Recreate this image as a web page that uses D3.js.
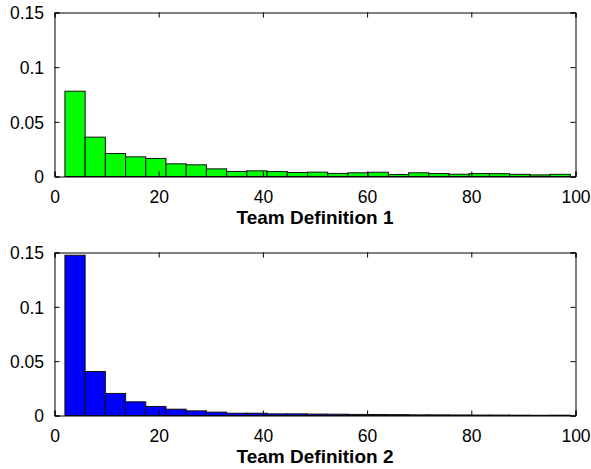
<!DOCTYPE html>
<html>
<head>
<meta charset="utf-8">
<script src="https://cdn.jsdelivr.net/npm/d3@7"></script>
<style>
  html, body { margin: 0; padding: 0; background: #fff; }
  svg { display: block; }
  text { font-family: "Liberation Sans", Arial, Helvetica, sans-serif; }
</style>
</head>
<body>
<svg id="chart" width="591" height="469"></svg>
<script>
// ---- data ----
const binEdges = [2, 5.88, 9.76, 13.64, 17.52, 21.4, 25.28, 29.16, 33.04, 36.92, 40.8, 44.68, 48.56,
  52.44, 56.32, 60.2, 64.08, 67.96, 71.84, 75.72, 79.6, 83.48, 87.36, 91.24, 95.12, 99];
const team1Values = [0.078, 0.036, 0.021, 0.018, 0.0165, 0.0116, 0.0107, 0.0070, 0.0046, 0.0052,
  0.0045, 0.0037, 0.0040, 0.0028, 0.0034, 0.0039, 0.0018, 0.0034, 0.0027, 0.0021, 0.0027,
  0.0026, 0.0020, 0.0015, 0.0020];
const team2Values = [0.1475, 0.0405, 0.0203, 0.0126, 0.0083, 0.0058, 0.0043, 0.0031, 0.0021, 0.0021,
  0.0015, 0.0015, 0.0013, 0.0012, 0.0010, 0.0009, 0.0008, 0.0006, 0.0006, 0.0005, 0.0004,
  0.0004, 0.0003, 0.0002, 0.0003];
const xTicks = [0, 20, 40, 60, 80, 100];
const yTicks = [0, 0.05, 0.1, 0.15];
const yTickLabels = ["0", "0.05", "0.1", "0.15"];
const panelTitles = ["Team Definition 1", "Team Definition 2"];
const panelColors = ["#00ff00", "#0000ff"];

const svg = d3.select("#chart");

function drawPanel(values, title, color, top, bottom) {
  const left = 54.5, right = 575.5;
  const x = d3.scaleLinear().domain([0, 100]).range([left, right]);
  const y = d3.scaleLinear().domain([0, 0.15]).range([bottom, top]);
  const g = svg.append("g");

  const bins = values.map((v, i) => ({ x0: binEdges[i], x1: binEdges[i + 1], v }));
  g.selectAll("rect.bar").data(bins).enter().append("rect")
    .attr("class", "bar")
    .attr("x", d => x(d.x0))
    .attr("width", d => x(d.x1) - x(d.x0))
    .attr("y", d => y(d.v))
    .attr("height", d => y(0) - y(d.v))
    .attr("fill", color)
    .attr("stroke", "#111")
    .attr("stroke-width", 1);

  const tickLen = 5;
  const xb = g.append("g").attr("transform", `translate(0,${bottom})`)
    .call(d3.axisBottom(x).tickValues(xTicks).tickSize(-tickLen).tickFormat(d3.format("d")));
  const xt = g.append("g").attr("transform", `translate(0,${top})`)
    .call(d3.axisTop(x).tickValues(xTicks).tickSize(-tickLen).tickFormat(""));
  const yl = g.append("g").attr("transform", `translate(${left},0)`)
    .call(d3.axisLeft(y).tickValues(yTicks).tickSize(-tickLen).tickFormat((d, i) => yTickLabels[i]));
  const yr = g.append("g").attr("transform", `translate(${right},0)`)
    .call(d3.axisRight(y).tickValues(yTicks).tickSize(-tickLen).tickFormat(""));

  [xb, xt, yl, yr].forEach(a => {
    a.select(".domain").attr("stroke", "#000").attr("stroke-width", 1);
    a.selectAll(".tick line").attr("stroke", "#000").attr("stroke-width", 1);
    a.selectAll(".tick text").attr("font-size", 17.5).attr("fill", "#000")
      .attr("font-family", "'Liberation Sans', Arial, sans-serif");
  });
  xb.selectAll(".tick text").attr("dy", 0).attr("y", 26);
  yl.selectAll(".tick text").attr("x", -10.5).attr("dy", "0.36em");

  g.append("text")
    .attr("x", (left + right) / 2)
    .attr("y", bottom + 47)
    .attr("text-anchor", "middle")
    .attr("font-size", 19)
    .attr("font-weight", "bold")
    .attr("fill", "#000")
    .text(title);
}

drawPanel(team1Values, panelTitles[0], panelColors[0], 12.5, 176.5);
drawPanel(team2Values, panelTitles[1], panelColors[1], 252.5, 415.5);
</script>
</body>
</html>
